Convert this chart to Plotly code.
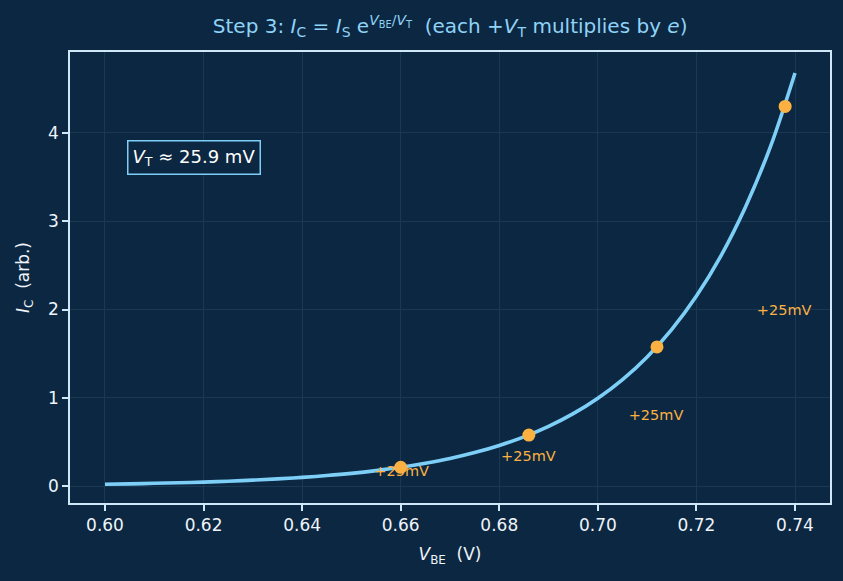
import plotly.graph_objects as go

# Curve samples (V_BE in volts, I_C arbitrary units)
vbe = [0.600, 0.605, 0.610, 0.615, 0.620, 0.625, 0.630, 0.635, 0.640, 0.645,
       0.650, 0.655, 0.660, 0.665, 0.670, 0.675, 0.680, 0.685, 0.690, 0.695,
       0.700, 0.705, 0.710, 0.715, 0.720, 0.725, 0.730, 0.735, 0.740]
ic = [0.021, 0.025, 0.031, 0.037, 0.045, 0.055, 0.067, 0.081, 0.098, 0.119,
      0.144, 0.175, 0.212, 0.258, 0.312, 0.379, 0.460, 0.557, 0.676, 0.820,
      0.995, 1.206, 1.463, 1.775, 2.153, 2.611, 3.167, 3.842, 4.680]

# Marked points (+25 mV steps)
pt_v = [0.660, 0.686, 0.712, 0.738]
pt_i = [0.212, 0.578, 1.576, 4.300]

# Step label positions
lab_v = [0.6602, 0.6859, 0.7118, 0.7378]
lab_i = [0.151, 0.325, 0.785, 1.980]
lab_text = ["+25mV", "+25mV", "+25mV", "+25mV"]

x_ticks = [0.60, 0.62, 0.64, 0.66, 0.68, 0.70, 0.72, 0.74]
y_ticks = [0, 1, 2, 3, 4]

BG = "#0c2741"
CURVE = "#7ecff8"
ORANGE = "#fbb142"
AXIS = "#cfe7f7"
GRID = "#1a3852"
FONT = "DejaVu Sans"

fig = go.Figure()
fig.add_trace(go.Scatter(x=vbe, y=ic, mode="lines", line=dict(color=CURVE, width=3.6, shape="spline"),
                         hoverinfo="skip", showlegend=False))
fig.add_trace(go.Scatter(x=pt_v, y=pt_i, mode="markers", marker=dict(color=ORANGE, size=13),
                         showlegend=False))
fig.add_trace(go.Scatter(x=lab_v, y=lab_i, mode="text", text=lab_text,
                         textfont=dict(color=ORANGE, size=14.5, family=FONT), showlegend=False))

fig.add_annotation(xref="paper", yref="paper", x=0.163, y=0.765, xanchor="center", yanchor="middle",
                   text="<i>V</i><sub>T</sub> ≈ 25.9 mV", showarrow=False,
                   font=dict(color="#ffffff", size=18, family=FONT),
                   bordercolor=CURVE, borderwidth=1.5, borderpad=4, bgcolor=BG)

fig.update_layout(
    width=843, height=581,
    paper_bgcolor=BG, plot_bgcolor=BG,
    margin=dict(l=70, r=13, t=52, b=78),
    font=dict(family=FONT, color="#eef4fa", size=17),
    title=dict(text="Step 3: <i>I</i><sub>C</sub> = <i>I</i><sub>S</sub> e<sup><i>V</i><sub>BE</sub>/<i>V</i><sub>T</sub></sup>  (each +<i>V</i><sub>T</sub> multiplies by <i>e</i>)",
               x=0.534, xanchor="center", y=0.955, yanchor="middle",
               font=dict(color="#8fd3f7", size=20, family=FONT)),
    xaxis=dict(range=[0.5929, 0.7471], tickvals=x_ticks, tickformat=".2f",
               showline=True, linecolor=AXIS, linewidth=1.5, mirror=True,
               ticks="outside", ticklen=6, tickcolor=AXIS, tickwidth=1.5,
               showgrid=True, gridcolor=GRID, gridwidth=1, zeroline=False,
               tickfont=dict(size=17),
               title=dict(text="<i>V</i><sub>BE</sub>  (V)", font=dict(size=17), standoff=14)),
    yaxis=dict(range=[-0.192, 4.917], tickvals=y_ticks,
               showline=True, linecolor=AXIS, linewidth=1.5, mirror=True,
               ticks="outside", ticklen=6, tickcolor=AXIS, tickwidth=1.5,
               showgrid=True, gridcolor=GRID, gridwidth=1, zeroline=False,
               tickfont=dict(size=17),
               title=dict(text="<i>I</i><sub>C</sub>  (arb.)", font=dict(size=17), standoff=14)),
)

fig.write_html("out.html")
